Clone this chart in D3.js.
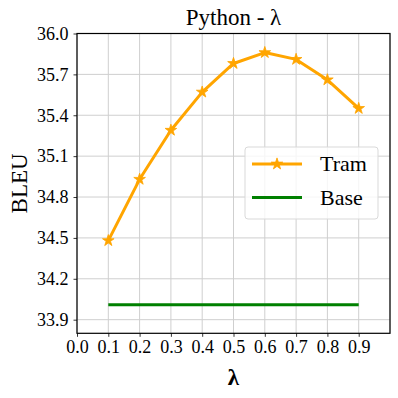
<!DOCTYPE html>
<html>
<head>
<meta charset="utf-8">
<script src="https://cdn.jsdelivr.net/npm/d3@7"></script>
<style>
  body { margin: 0; background: #fff; }
</style>
</head>
<body>
<svg id="chart" width="398" height="398"></svg>
<script>
// data
var lambdas = [0.1, 0.2, 0.3, 0.4, 0.5, 0.6, 0.7, 0.8, 0.9];
var tram = [34.48, 34.93, 35.29, 35.57, 35.78, 35.86, 35.81, 35.66, 35.45];
var base = [34.01, 34.01, 34.01, 34.01, 34.01, 34.01, 34.01, 34.01, 34.01];
var xTicks = [0.0, 0.1, 0.2, 0.3, 0.4, 0.5, 0.6, 0.7, 0.8, 0.9];
var yTicks = [33.9, 34.2, 34.5, 34.8, 35.1, 35.4, 35.7, 36.0];
var seriesNames = ["Tram", "Base"];

var FONT = "'Liberation Serif', 'Times New Roman', serif";
var svg = d3.select("#chart");
// plot box (window.top is reserved, so plain names here)
var pLeft = 77, pRight = 390, pTop = 33.5, pBottom = 333.3;

var x = d3.scaleLinear().domain([0, 1]).range([pLeft, pRight]);
var y = d3.scaleLinear().domain([33.8, 36.0]).range([pBottom, pTop]);

// grid
var grid = svg.append("g").attr("class", "grid");
grid.selectAll(".gx").data(xTicks.concat([1.0])).enter().append("line")
    .attr("x1", d => x(d)).attr("x2", d => x(d))
    .attr("y1", pTop).attr("y2", pBottom)
    .attr("stroke", "#cfcfcf").attr("stroke-width", 1);
grid.selectAll(".gy").data(yTicks).enter().append("line")
    .attr("x1", pLeft).attr("x2", pRight)
    .attr("y1", d => y(d)).attr("y2", d => y(d))
    .attr("stroke", "#cfcfcf").attr("stroke-width", 1);

// axes
var xAxis = svg.append("g")
    .attr("transform", "translate(0," + pBottom + ")")
    .call(d3.axisBottom(x).tickValues(xTicks).tickFormat(d3.format(".1f")).tickSizeOuter(0).tickSize(3.5).tickPadding(3.5));
var yAxis = svg.append("g")
    .attr("transform", "translate(" + pLeft + ",0)")
    .call(d3.axisLeft(y).tickValues(yTicks).tickFormat(d3.format(".1f")).tickSizeOuter(0).tickSize(3.5).tickPadding(5));
[xAxis, yAxis].forEach(a => {
    a.attr("font-family", FONT).attr("font-size", 18);
    a.select(".domain").remove();
    a.selectAll("text").attr("fill", "#000");
    a.selectAll("line").attr("stroke", "#000").attr("stroke-width", 0.8);
});

// frame
svg.append("rect")
    .attr("x", pLeft).attr("y", pTop)
    .attr("width", pRight - pLeft).attr("height", pBottom - pTop)
    .attr("fill", "none").attr("stroke", "#000").attr("stroke-width", 1.2);

var line = d3.line()
    .x(function (d) { return x(d[0]); })
    .y(function (d) { return y(d[1]); });

// base line
svg.append("path")
    .attr("d", line(lambdas.map((l, i) => [l, base[i]])))
    .attr("fill", "none").attr("stroke", "green").attr("stroke-width", 3);

// tram line
svg.append("path")
    .attr("d", line(lambdas.map((l, i) => [l, tram[i]])))
    .attr("fill", "none").attr("stroke", "orange").attr("stroke-width", 3)
    .attr("stroke-linejoin", "round");

var star = d3.symbol().type(d3.symbolStar).size(42);
svg.selectAll(".star").data(lambdas).enter().append("path")
    .attr("d", star)
    .attr("transform", (d, i) => "translate(" + x(d) + "," + y(tram[i]) + ")")
    .attr("fill", "orange").attr("stroke", "orange").attr("stroke-width", 0.8);

// title and labels
svg.append("text")
    .attr("x", (pLeft + pRight) / 2).attr("y", 25)
    .attr("text-anchor", "middle").attr("font-family", FONT).attr("font-size", 23)
    .text("Python - λ");
svg.append("text")
    .attr("transform", "translate(27," + ((pTop + pBottom) / 2) + ") rotate(-90)")
    .attr("text-anchor", "middle").attr("font-family", FONT).attr("font-size", 23)
    .text("BLEU");
svg.append("text")
    .attr("x", (pLeft + pRight) / 2).attr("y", 385)
    .attr("text-anchor", "middle").attr("font-family", FONT).attr("font-size", 23)
    .attr("font-weight", "bold")
    .text("λ");

// legend
var lg = svg.append("g");
lg.append("rect")
    .attr("x", 245).attr("y", 147).attr("width", 133).attr("height", 72)
    .attr("rx", 3).attr("fill", "#fff").attr("fill-opacity", 0.8)
    .attr("stroke", "#d9d9d9").attr("stroke-width", 1);
var rows = [164, 197.5];
var colors = ["orange", "green"];
seriesNames.forEach((name, i) => {
    lg.append("line")
        .attr("x1", 252).attr("x2", 302).attr("y1", rows[i]).attr("y2", rows[i])
        .attr("stroke", colors[i]).attr("stroke-width", 3);
    if (i === 0) {
        lg.append("path").attr("d", star)
            .attr("transform", "translate(277," + rows[i] + ")")
            .attr("fill", "orange").attr("stroke", "orange").attr("stroke-width", 0.8);
    }
    lg.append("text")
        .attr("x", 320).attr("y", rows[i] + 7)
        .attr("font-family", FONT).attr("font-size", 22)
        .text(name);
});
</script>
</body>
</html>
